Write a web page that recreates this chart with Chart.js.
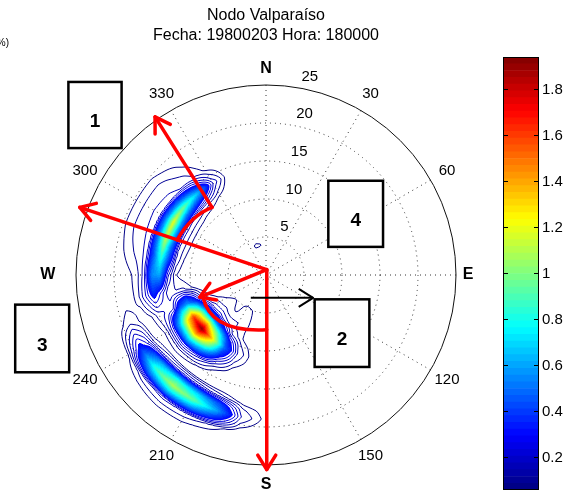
<!DOCTYPE html>
<html>
<head>
<meta charset="utf-8">
<script src="https://cdn.jsdelivr.net/npm/chart.js@4.4.0/dist/chart.umd.min.js"></script>
<style>
  html, body { margin: 0; padding: 0; background: #fff; }
  #wrap { position: relative; width: 574px; height: 493px; overflow: hidden; }
  #wrap canvas { position: absolute; left: 0; top: 0; }
</style>
</head>
<body>
<div id="wrap">
  <canvas id="polar" width="574" height="493"></canvas>
  <canvas id="cbar" width="574" height="493"></canvas>
</div>
<script>
// Directional wave spectrum, Valparaíso node. Grid: rows = radius (period), columns = bearing (deg from N)
const bearings = [170, 180, 190, 200, 210, 220, 230, 240, 250, 260, 270, 280, 290, 300, 310, 320, 330, 340, 350, 360];
const radii = [3, 4, 5, 6, 7, 8, 9, 10, 11, 12, 13, 14, 15, 16, 17, 18, 19, 20, 21, 22, 23];
const spectrum = [
  /* 3 */ [0, 0, 0, 0, 0, 0, 0, 0, 0, 0, 0, 0, 0, 0, 0, 0, 0, 0, 0, 0],
  /* 4 */ [0, 0, 0, 0, 0, 0, 0, 0, 0, 0, 0, 0, 0, 0, 0, 0, 0, .08, .07, 0],
  /* 5 */ [0, 0, 0, .06, .08, .04, .06, .05, .02, 0, 0, 0, 0, 0, 0, 0, 0, .03, 0, 0],
  /* 6 */ [0, 0, 0, .07, .09, .05, .08, .06, .02, 0, 0, 0, 0, 0, 0, 0, 0, 0, 0, 0],
  /* 7 */ [0, 0, 0, .07, .10, .08, .11, .10, .03, 0, 0, 0, 0, 0, 0, 0, 0, 0, 0, 0],
  /* 8 */ [0, 0, 0, .06, .10, .16, .23, .19, .07, 0, 0, 0, 0, 0, 0, 0, 0, 0, 0, 0],
  /* 9 */ [0, 0, 0, .06, .15, .39, .57, .48, .17, .03, 0, 0, 0, 0, 0, 0, 0, 0, 0, 0],
  /*10 */ [0, 0, .03, .11, .36, .94, 1.37, 1.15, .40, .07, 0, .03, .03, .03, .03, .02, 0, 0, 0, 0],
  /*11 */ [0, 0, .04, .15, .50, 1.30, 1.94, 1.60, .55, .11, .03, .06, .08, .08, .07, .05, .02, 0, 0, 0],
  /*12 */ [0, 0, .03, .11, .38, .99, 1.44, 1.22, .42, .10, .07, .14, .16, .17, .15, .11, .05, 0, 0, 0],
  /*13 */ [0, 0, 0, .06, .21, .55, .80, .67, .18, .11, .23, .45, .55, .58, .48, .33, .12, 0, 0, 0],
  /*14 */ [0, 0, 0, .02, .08, .21, .30, .26, .15, .23, .60, .85, 1.12, 1.20, .95, .65, .20, 0, 0, 0],
  /*15 */ [0, 0, 0, 0, .03, .07, .10, .08, .13, .35, .55, .45, .55, .58, .48, .33, .12, 0, 0, 0],
  /*16 */ [0, 0, 0, .02, .02, .02, .03, .02, .06, .21, .18, .17, .18, .19, .17, .13, .05, 0, 0, 0],
  /*17 */ [0, 0, .03, .12, .19, .22, .17, .07, .02, .09, .08, .12, .14, .15, .14, .10, .03, 0, 0, 0],
  /*18 */ [0, .03, .11, .43, .68, .79, .61, .25, .07, .04, .05, .09, .12, .12, .12, .07, .02, 0, 0, 0],
  /*19 */ [0, .04, .15, .60, .95, 1.10, .85, .35, .10, .03, .03, .06, .08, .08, .08, .05, 0, 0, 0, 0],
  /*20 */ [0, .02, .09, .36, .57, .66, .51, .21, .06, 0, 0, .03, .05, .05, .05, .02, 0, 0, 0, 0],
  /*21 */ [0, 0, .02, .09, .14, .17, .13, .05, .02, 0, 0, 0, .02, .03, .02, 0, 0, 0, 0, 0],
  /*22 */ [0, 0, 0, .04, .07, .08, .06, .02, 0, 0, 0, 0, 0, 0, 0, 0, 0, 0, 0, 0],
  /*23 */ [0, 0, 0, .02, .03, .03, .03, 0, 0, 0, 0, 0, 0, 0, 0, 0, 0, 0, 0, 0]
];

// Polar axes
const rMax = 25;
const ringTicks = [5, 10, 15, 20, 25];
const spokeLabels = [30, 60, 120, 150, 210, 240, 300, 330];
const compassLabels = ['N', 'E', 'S', 'W'];
const compassBearings = [0, 90, 180, 270];
const compassRadii = [27.2, 26.6, 27.6, 28.7];

// Contour settings
const lineLevels = [0.06, 0.10, 0.15, 0.20, 0.25, 0.30];
const fillLevel = 0.30;

// Colour bar
const cbRange = [0.056, 1.94];
const cbTicks = [0.2, 0.4, 0.6, 0.8, 1.0, 1.2, 1.4, 1.6, 1.8];
const cbSteps = 64;

const titleLines = ['Nodo Valparaíso', 'Fecha: 19800203 Hora: 180000'];

// Overlay annotations, in chart units (x east, y north)
const hub = [0.1, 0.7];
const redArrows = [
  [hub, [-24.5, 8.9]],
  [hub, [-8.7, -2.9]],
  [hub, [0.1, -25.6]],
  [[-7.1, 8.9], [-14.6, 20.8]]
];
const redCurves = [
  [[-7.1, 8.9], [-9.9, 7.8], [-11.7, 4.6]],
  [[-8.3, -2.9], [-7.2, -7.6], [0.1, -7.2]]
];
const blackArrow = [[-2.0, -3.0], [6.2, -3.0]];
const boxLabels = ['1', '2', '3', '4'];
const boxCorners = [
  [-26.0, 25.4, -19.0, 16.7],
  [6.4, -3.2, 13.6, -12.1],
  [-33.0, -3.9, -25.9, -12.8],
  [8.2, 12.4, 15.4, 3.7]
];

const FONT = '"Liberation Sans", Arial, Helvetica, sans-serif';
const DEG = Math.PI / 180;

function clamp01(v) { return Math.max(0, Math.min(1, v)); }
function jet(t) {
  return [clamp01(1.5 - Math.abs(4 * t - 3)), clamp01(1.5 - Math.abs(4 * t - 2)), clamp01(1.5 - Math.abs(4 * t - 1))];
}
function jetBand(k) { return jet((k + 0.5) / cbSteps); }
function jetValue(v) {
  let k = Math.floor((v - cbRange[0]) / (cbRange[1] - cbRange[0]) * cbSteps);
  k = Math.max(0, Math.min(cbSteps - 1, k));
  return jetBand(k);
}
function rgb(c) { return 'rgb(' + Math.round(c[0] * 255) + ',' + Math.round(c[1] * 255) + ',' + Math.round(c[2] * 255) + ')'; }

// bilinear lookup in (radius, bearing)
function sample(r, b) {
  const r0 = radii[0], r1 = radii[radii.length - 1];
  const b0 = bearings[0], b1 = bearings[bearings.length - 1];
  if (r < r0 || r > r1 || b < b0 || b > b1) return 0;
  const fr = (r - r0) / (radii[1] - radii[0]);
  const fb = (b - b0) / (bearings[1] - bearings[0]);
  const i = Math.min(Math.floor(fr), radii.length - 2);
  const j = Math.min(Math.floor(fb), bearings.length - 2);
  const tr = fr - i, tb = fb - j;
  return spectrum[i][j] * (1 - tr) * (1 - tb) + spectrum[i + 1][j] * tr * (1 - tb) +
         spectrum[i][j + 1] * (1 - tr) * tb + spectrum[i + 1][j + 1] * tr * tb;
}
function valueAt(x, y) {
  const r = Math.hypot(x, y);
  let b = Math.atan2(x, y) / DEG;
  if (b < 0) b += 360;
  return sample(r, b);
}

// grid nodes as chart points
const nodes = [];
radii.forEach((r, i) => bearings.forEach((b, j) => {
  if (spectrum[i][j] > 0) nodes.push({ x: r * Math.sin(b * DEG), y: r * Math.cos(b * DEG), v: spectrum[i][j] });
}));

function arrowHead(ctx, x0, y0, x1, y1, len, ang) {
  const a = Math.atan2(y1 - y0, x1 - x0);
  ctx.beginPath();
  ctx.moveTo(x1 - len * Math.cos(a - ang), y1 - len * Math.sin(a - ang));
  ctx.lineTo(x1, y1);
  ctx.lineTo(x1 - len * Math.cos(a + ang), y1 - len * Math.sin(a + ang));
  ctx.stroke();
}

const polarPlugin = {
  id: 'polarSpectrum',
  afterDatasetsDraw(chart) {
    const { ctx, chartArea: a, scales: { x: xs, y: ys } } = chart;
    const px = v => xs.getPixelForValue(v);
    const py = v => ys.getPixelForValue(v);
    const cx = px(0), cy = py(0);
    const rpx = r => px(r) - cx;
    const polarPt = (r, b) => [px(r * Math.sin(b * DEG)), py(r * Math.cos(b * DEG))];

    ctx.save();
    // dotted rings and spokes
    ctx.strokeStyle = '#333';
    ctx.lineWidth = 1;
    ctx.setLineDash([1, 4]);
    ringTicks.slice(0, -1).forEach(r => {
      ctx.beginPath(); ctx.arc(cx, cy, rpx(r), 0, 2 * Math.PI); ctx.stroke();
    });
    for (let b = 0; b < 180; b += 30) {
      const p0 = polarPt(rMax, b), p1 = polarPt(rMax, b + 180);
      ctx.beginPath(); ctx.moveTo(p0[0], p0[1]); ctx.lineTo(p1[0], p1[1]); ctx.stroke();
    }
    ctx.setLineDash([]);

    // spectrum field
    const W = Math.round(a.right - a.left), H = Math.round(a.bottom - a.top);
    const N = W + 1;
    const V = new Float32Array((W + 1) * (H + 1));
    for (let j = 0; j <= H; j++) {
      const yv = ys.getValueForPixel(a.top + j);
      for (let i = 0; i <= W; i++) V[j * N + i] = valueAt(xs.getValueForPixel(a.left + i), yv);
    }
    const off = document.createElement('canvas');
    off.width = W; off.height = H;
    const octx = off.getContext('2d');
    const img = octx.createImageData(W, H);
    for (let j = 0; j < H; j++) {
      for (let i = 0; i < W; i++) {
        const v = (V[j * N + i] + V[j * N + i + 1] + V[(j + 1) * N + i] + V[(j + 1) * N + i + 1]) / 4;
        if (v >= fillLevel) {
          const c = jetValue(v), k = (j * W + i) * 4;
          img.data[k] = c[0] * 255; img.data[k + 1] = c[1] * 255; img.data[k + 2] = c[2] * 255; img.data[k + 3] = 255;
        }
      }
    }
    octx.putImageData(img, 0, 0);
    ctx.drawImage(off, a.left, a.top);

    // contour lines (marching squares)
    const s = 2;
    ctx.lineWidth = 1;
    lineLevels.forEach(L => {
      ctx.strokeStyle = rgb(jetValue(L));
      ctx.beginPath();
      for (let j = 0; j + s <= H; j += s) {
        for (let i = 0; i + s <= W; i += s) {
          const v0 = V[j * N + i], v1 = V[j * N + i + s], v2 = V[(j + s) * N + i + s], v3 = V[(j + s) * N + i];
          const pts = [];
          const X = a.left + i, Y = a.top + j;
          if ((v0 < L) !== (v1 < L)) pts.push([X + s * (L - v0) / (v1 - v0), Y]);
          if ((v1 < L) !== (v2 < L)) pts.push([X + s, Y + s * (L - v1) / (v2 - v1)]);
          if ((v3 < L) !== (v2 < L)) pts.push([X + s * (L - v3) / (v2 - v3), Y + s]);
          if ((v0 < L) !== (v3 < L)) pts.push([X, Y + s * (L - v0) / (v3 - v0)]);
          for (let q = 0; q + 1 < pts.length; q += 2) {
            ctx.moveTo(pts[q][0], pts[q][1]); ctx.lineTo(pts[q + 1][0], pts[q + 1][1]);
          }
        }
      }
      ctx.stroke();
    });

    // outer circle
    ctx.strokeStyle = '#111';
    ctx.lineWidth = 1;
    ctx.beginPath(); ctx.arc(cx, cy, rpx(rMax), 0, 2 * Math.PI); ctx.stroke();

    // ring labels
    ctx.fillStyle = '#000';
    ctx.font = '15px ' + FONT;
    ctx.textAlign = 'left'; ctx.textBaseline = 'alphabetic';
    ringTicks.forEach(r => {
      const p = polarPt(r, 8);
      ctx.fillText(String(r), p[0] + 9, p[1] - 6);
    });
    // bearing labels
    ctx.textAlign = 'center'; ctx.textBaseline = 'middle';
    spokeLabels.forEach(b => {
      const p = polarPt(rMax * 1.1, b);
      ctx.fillText(String(b), p[0], p[1]);
    });
    ctx.font = 'bold 16px ' + FONT;
    compassLabels.forEach((t, k) => {
      const p = polarPt(compassRadii[k], compassBearings[k]);
      ctx.fillText(t, p[0], p[1]);
    });

    // title
    ctx.font = '16px ' + FONT;
    ctx.fillText(titleLines[0], (a.left + a.right) / 2, 16);
    ctx.fillText(titleLines[1], (a.left + a.right) / 2, 36);
    ctx.font = '10px ' + FONT;
    ctx.textAlign = 'right';
    ctx.fillText('(%)', 9, 43);

    // red arrows
    ctx.strokeStyle = '#ff0000';
    ctx.lineWidth = 3.5;
    ctx.lineCap = 'round'; ctx.lineJoin = 'round';
    redArrows.forEach(([p0, p1]) => {
      const x0 = px(p0[0]), y0 = py(p0[1]), x1 = px(p1[0]), y1 = py(p1[1]);
      ctx.beginPath(); ctx.moveTo(x0, y0); ctx.lineTo(x1, y1); ctx.stroke();
      arrowHead(ctx, x0, y0, x1, y1, 17, 32 * DEG);
    });
    redCurves.forEach(([p0, c, p1]) => {
      ctx.beginPath();
      ctx.moveTo(px(p0[0]), py(p0[1]));
      ctx.quadraticCurveTo(px(c[0]), py(c[1]), px(p1[0]), py(p1[1]));
      ctx.stroke();
    });

    // black arrow
    ctx.strokeStyle = '#000';
    ctx.lineWidth = 2;
    ctx.lineCap = 'butt';
    {
      const x0 = px(blackArrow[0][0]), y0 = py(blackArrow[0][1]), x1 = px(blackArrow[1][0]), y1 = py(blackArrow[1][1]);
      ctx.beginPath(); ctx.moveTo(x0, y0); ctx.lineTo(x1, y1); ctx.stroke();
      arrowHead(ctx, x0, y0, x1, y1, 17, 32 * DEG);
    }

    // numbered boxes
    ctx.lineWidth = 2.5;
    ctx.lineJoin = 'miter';
    ctx.font = 'bold 19px ' + FONT;
    ctx.textAlign = 'center'; ctx.textBaseline = 'middle';
    boxCorners.forEach((b, k) => {
      const x0 = px(b[0]), y0 = py(b[1]), x1 = px(b[2]), y1 = py(b[3]);
      ctx.fillStyle = '#fff';
      ctx.fillRect(x0, y0, x1 - x0, y1 - y0);
      ctx.strokeRect(x0, y0, x1 - x0, y1 - y0);
      ctx.fillStyle = '#000';
      ctx.fillText(boxLabels[k], (x0 + x1) / 2, (y0 + y1) / 2 + 7);
    });
    ctx.restore();
  }
};

new Chart(document.getElementById('polar'), {
  type: 'scatter',
  data: { datasets: [{ data: nodes, pointRadius: 0, pointHoverRadius: 0, showLine: false }] },
  options: {
    responsive: false,
    animation: false,
    events: [],
    layout: { padding: { left: 76, right: 118, top: 85, bottom: 28 } },
    scales: {
      x: { type: 'linear', min: -rMax, max: rMax, display: false },
      y: { type: 'linear', min: -rMax, max: rMax, display: false }
    },
    plugins: { legend: { display: false }, tooltip: { enabled: false }, title: { display: false } }
  },
  plugins: [polarPlugin]
});

// Colour bar: one floating bar per colour band
const bandStep = (cbRange[1] - cbRange[0]) / cbSteps;
const bandSets = [];
for (let k = 0; k < cbSteps; k++) {
  bandSets.push({
    data: [[cbRange[0] + k * bandStep, cbRange[0] + (k + 1) * bandStep]],
    backgroundColor: rgb(jetBand(k)),
    borderWidth: 0,
    grouped: false,
    barPercentage: 1,
    categoryPercentage: 1
  });
}
const colorbarPlugin = {
  id: 'colorbarAxis',
  afterDatasetsDraw(chart) {
    const { ctx, chartArea: a, scales: { y: ys } } = chart;
    ctx.save();
    ctx.strokeStyle = '#000';
    ctx.lineWidth = 1;
    ctx.strokeRect(Math.round(a.left) + 0.5, Math.round(a.top) + 0.5, Math.round(a.right - a.left) - 1, Math.round(a.bottom - a.top) - 1);
    ctx.fillStyle = '#000';
    ctx.font = '15px ' + FONT;
    ctx.textAlign = 'left'; ctx.textBaseline = 'middle';
    cbTicks.forEach(v => {
      const y = Math.round(ys.getPixelForValue(v)) + 0.5;
      ctx.beginPath();
      ctx.moveTo(a.left, y); ctx.lineTo(a.left + 5, y);
      ctx.moveTo(a.right - 5, y); ctx.lineTo(a.right, y);
      ctx.stroke();
      ctx.fillText(String(+v.toFixed(1)), a.right + 3, y);
    });
    ctx.restore();
  }
};
new Chart(document.getElementById('cbar'), {
  type: 'bar',
  data: { labels: [''], datasets: bandSets },
  options: {
    responsive: false,
    animation: false,
    events: [],
    layout: { padding: { left: 503, right: 35, top: 57, bottom: 3 } },
    scales: {
      x: { display: false },
      y: { type: 'linear', min: cbRange[0], max: cbRange[1], display: false }
    },
    plugins: { legend: { display: false }, tooltip: { enabled: false } }
  },
  plugins: [colorbarPlugin]
});
</script>
</body>
</html>
